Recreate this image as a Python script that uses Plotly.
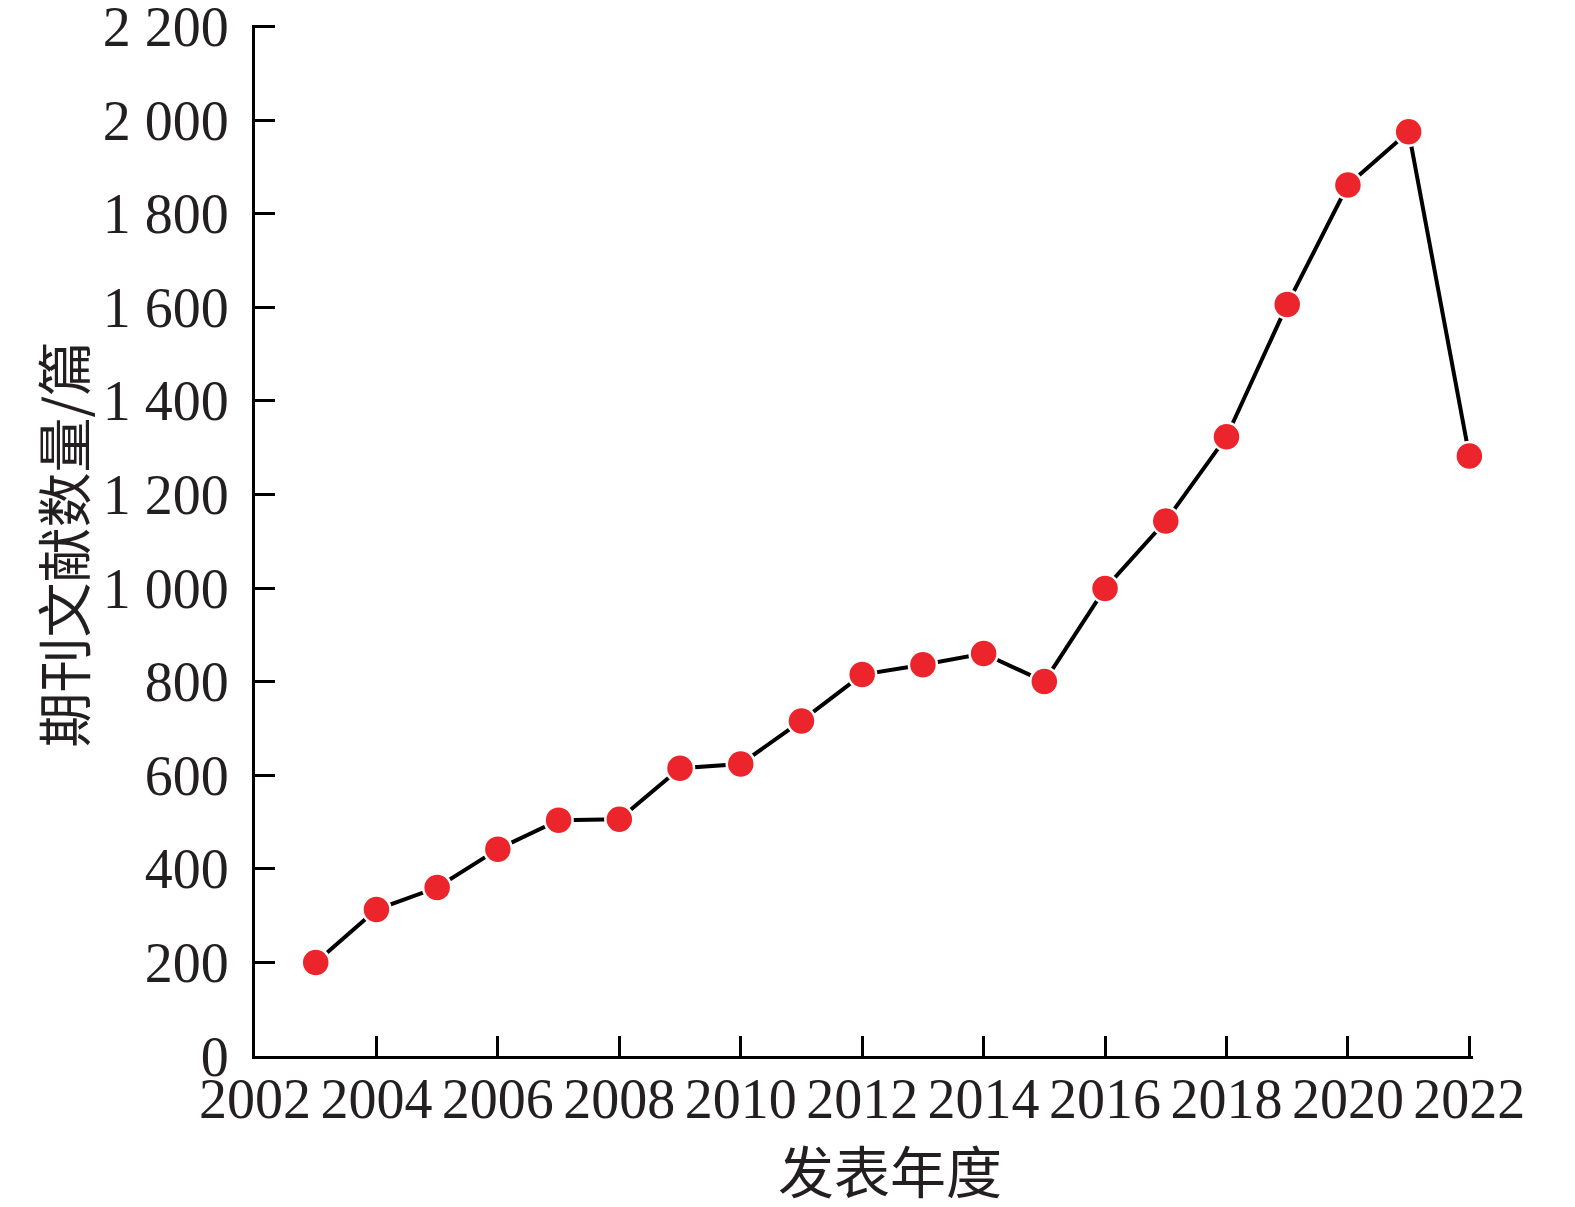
import plotly.graph_objects as go

years = [2003, 2004, 2005, 2006, 2007, 2008, 2009, 2010, 2011, 2012,
         2013, 2014, 2015, 2016, 2017, 2018, 2019, 2020, 2021, 2022]
counts = [200, 313, 360, 442, 504, 506, 615, 624, 716, 815,
          836, 860, 800, 999, 1143, 1323, 1606, 1861, 1975, 1282]

y_tick_vals = [0, 200, 400, 600, 800, 1000, 1200, 1400, 1600, 1800, 2000, 2200]
y_tick_text = ["0", "200", "400", "600", "800", "1 000", "1 200", "1 400",
               "1 600", "1 800", "2 000", "2 200"]
x_tick_vals = [2002, 2004, 2006, 2008, 2010, 2012, 2014, 2016, 2018, 2020, 2022]

x_title = "发表年度"
y_title = "期刊文献数量/篇"

FONT = "Liberation Serif"
CJK = "Noto Sans CJK SC"
TXT = "#231F20"

fig = go.Figure()
fig.add_trace(go.Scatter(
    x=years, y=counts, mode="lines+markers",
    line=dict(color="black", width=4),
    marker=dict(size=28, color="#EC242B", line=dict(color="white", width=2.5)),
    cliponaxis=False, showlegend=False,
))

axis_common = dict(
    showline=True, linecolor="black", linewidth=3,
    ticks="inside", ticklen=20, tickwidth=3, tickcolor="black",
    showgrid=False, zeroline=False, automargin=False,
    ticklabeloverflow="allow",
    tickfont=dict(family=FONT, size=56, color=TXT),
)

# page body has a default margin; compensate so the plot lands where intended
fig.update_layout(
    width=1570, height=1199,
    paper_bgcolor="white", plot_bgcolor="white",
    margin=dict(l=247, r=105, t=17, b=151),
    font=dict(family=FONT, color=TXT),
    xaxis=dict(range=[2002, 2022.06], tickvals=x_tick_vals,
               ticklabelstandoff=-8,
               **axis_common),
    yaxis=dict(range=[0, 2203], tickvals=y_tick_vals, ticktext=y_tick_text,
               ticklabelstandoff=12,
               **axis_common),
    annotations=[
        dict(text=x_title, xref="paper", yref="paper", x=0.521, y=0,
             yshift=-112, yanchor="middle", xanchor="center", showarrow=False,
             font=dict(family=CJK, size=56, color=TXT)),
        dict(text=y_title, xref="paper", yref="paper", x=0, y=0.5,
             xshift=-195, yshift=-4, textangle=-90,
             xanchor="center", yanchor="middle", showarrow=False,
             font=dict(family=CJK, size=55, color=TXT)),
    ],
)

fig.write_html("out.html")
